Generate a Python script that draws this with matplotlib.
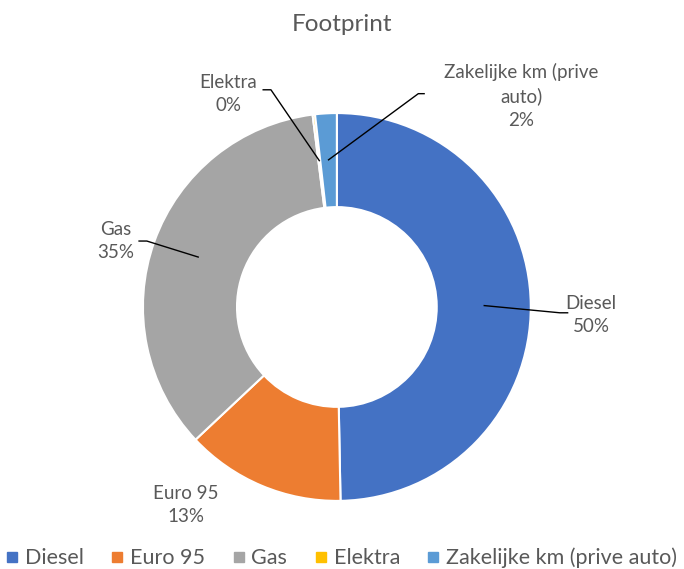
import matplotlib.pyplot as plt
import numpy as np

plt.rcParams['font.family'] = ['Lato', 'DejaVu Sans']

categories = ['Diesel', 'Euro 95', 'Gas', 'Elektra', 'Zakelijke km (prive auto)']
shares = [49.7, 13.3, 35.0, 0.2, 1.8]
colors = ['#4472C4', '#ED7D31', '#A5A5A5', '#FFC000', '#5B9BD5']
label_text = ['Diesel', 'Euro 95', 'Gas', 'Elektra', 'Zakelijke km (prive\nauto)']

# label placement (data coords, ring outer radius = 1); None = no leader line
label_pos = [(1.31, -0.04), (-0.78, -1.02), (-1.14, 0.34), (-0.56, 1.10), (0.95, 1.09)]
elbow_pos = [(1.15, -0.03), None, (-0.98, 0.34), (-0.34, 1.12), (0.42, 1.10)]
elbow_end = [(1.19, -0.03), None, (-1.02, 0.34), (-0.38, 1.12), (0.45, 1.10)]

fig = plt.figure(figsize=(6.84, 5.69), dpi=100)
ax = fig.add_axes([0.209, 0.1195, 0.567, 0.682])

wedges, _ = ax.pie(shares, colors=colors, startangle=90, counterclock=False,
                   radius=1.0, wedgeprops=dict(width=0.485, edgecolor='white', linewidth=1.5))
ax.set_xlim(-1, 1)
ax.set_ylim(-1, 1)
ax.set_aspect('equal')
ax.axis('off')

total = sum(shares)
for i, w in enumerate(wedges):
    pct = f'{shares[i] / total * 100:.0f}%'
    txt = label_text[i] + '\n' + pct
    ax.text(*label_pos[i], txt, ha='center', va='center', fontsize=13.5,
            color='#595959', linespacing=1.45, clip_on=False)
    if elbow_pos[i] is not None:
        mid = np.deg2rad((w.theta1 + w.theta2) / 2)
        ax_, ay_ = 0.76 * np.cos(mid), 0.76 * np.sin(mid)
        xs = [ax_, elbow_pos[i][0], elbow_end[i][0]]
        ys = [ay_, elbow_pos[i][1], elbow_end[i][1]]
        ax.plot(xs, ys, color='black', linewidth=1, clip_on=False)

fig.suptitle('Footprint', y=0.975, fontsize=17.5, color='#595959')

handles = [plt.Line2D([], [], marker='s', linestyle='', color=c, markersize=7) for c in colors]
fig.legend(handles, categories, loc='lower center', bbox_to_anchor=(0.5, -0.033), ncol=5,
           frameon=False, fontsize=15.5, handlelength=0.5, handletextpad=0.35,
           columnspacing=1.3, labelcolor='#595959')

fig.savefig('out.png', dpi=100)
